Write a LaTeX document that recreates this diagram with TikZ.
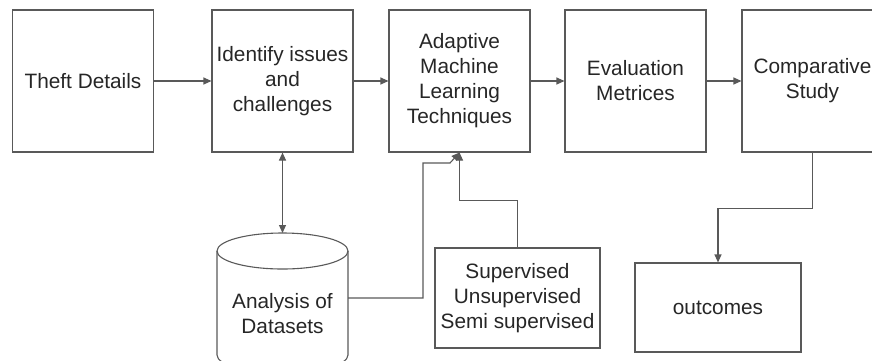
\documentclass[tikz,border=0pt]{standalone}
\usepackage{fontspec}
\setmainfont{Liberation Sans}
\usetikzlibrary{calc,positioning,arrows.meta}

\begin{document}
\begin{tikzpicture}[x=1pt,y=-1pt,
  stepbox/.style={draw=black!65,line width=1.1pt,minimum width=141pt,minimum height=142pt,
    inner sep=0pt,align=center,text=black!85,font=\fontsize{20.8}{25}\selectfont},
  plaintext/.style={inner sep=0pt,align=center,text=black!85,font=\fontsize{20.8}{25}\selectfont},
  link/.style={draw=black!65,line width=1.1pt,-{Triangle[length=8pt,width=7pt]}},
  twolink/.style={link,{Triangle[length=8pt,width=7pt]}-{Triangle[length=8pt,width=7pt]}}
]
\useasboundingbox (0,0) rectangle (872,360);

% top row
\node[stepbox] (theft) at (83,81) {Theft Details};
\node[stepbox] (issues) at (282.5,81) {Identify issues\\and\\challenges};
\node[stepbox] (adaptive) at (459.5,81) {Adaptive\\Machine\\Learning\\Techniques};
\node[stepbox] (metrics) at (635.5,81) {Evaluation\\Metrices};
\node[stepbox] (compare) at (812.5,81) {Comparative\\Study};

% bottom row
\draw[draw=black!65,line width=1.1pt] (217,251) -- (217,355)
  arc[start angle=180,end angle=0,x radius=65.5,y radius=18] -- (348,251);
\draw[draw=black!65,line width=1.1pt] (282.5,251) ellipse[x radius=65.5,y radius=18];
\coordinate (dbtop) at (282.5,233);
\coordinate (dbright) at (348,298);
\node[plaintext] (data) at (282.5,313.5) {Analysis of\\Datasets};

\node[stepbox,minimum width=165pt,minimum height=100pt] (methods) at (517.5,298)
  {Supervised\\Unsupervised\\Semi supervised};
\node[stepbox,minimum width=166pt,minimum height=89pt] (outcomes) at (718,307.5) {outcomes};

% connectors
\draw[link] (theft) -- (issues);
\draw[link] (issues) -- (adaptive);
\draw[link] (adaptive) -- (metrics);
\draw[link] (metrics) -- (compare);
\draw[twolink] (issues.south) -- (dbtop);
\draw[link] (dbright) -- ++(75,0) -- ++(0,-135) -- ++(27,0) -- (adaptive.south);
\draw[link] (methods.north) |- ($(adaptive.south)+(0,48)$) -- (adaptive.south);
\draw[link] (compare.south) -- ++(0,56) -| (outcomes.north);
\end{tikzpicture}
\end{document}
